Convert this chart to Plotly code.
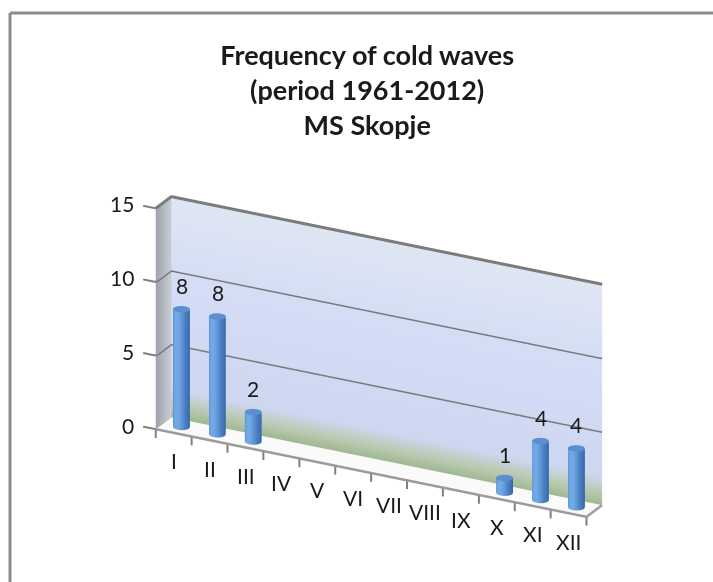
import numpy as np
import plotly.graph_objects as go

# Monthly counts of cold waves, MS Skopje, 1961-2012
months = ["I", "II", "III", "IV", "V", "VI", "VII", "VIII", "IX", "X", "XI", "XII"]
counts = [8, 8, 2, 0, 0, 0, 0, 0, 0, 1, 4, 4]
value_ticks = [0, 5, 10, 15]

TITLE = "<b>Frequency of cold waves</b><br><b>(period 1961-2012)</b><br><b>MS Skopje</b>"
FONT = "Lato"

n_cat = len(months)
z_top = 15
depth = 1.0
GRID = "#7A7A7A"

fig = go.Figure()

flat = dict(ambient=1.0, diffuse=0.0, specular=0.0, fresnel=0.0, roughness=1.0)

# back wall with vertical gradient (green tint near the floor)
wx = np.linspace(0, n_cat, 2)
wz = np.linspace(0, z_top, 60)
WX, WZ = np.meshgrid(wx, wz)
fig.add_trace(go.Surface(
    x=WX, y=np.full_like(WX, depth), z=WZ, surfacecolor=WZ,
    colorscale=[[0, "#A2B994"], [0.06, "#BACBB3"], [0.13, "#CED7F0"],
                [0.55, "#D3DBF6"], [1, "#DEE6F3"]],
    cmin=0, cmax=z_top, showscale=False, lighting=flat, hoverinfo="skip"))

# side wall on the left
sy = np.linspace(0, depth, 2)
sz = np.linspace(0, z_top, 2)
SY, SZ = np.meshgrid(sy, sz)
fig.add_trace(go.Surface(
    x=np.zeros_like(SY), y=SY, z=SZ, surfacecolor=SY,
    colorscale=[[0, "#9EA3AB"], [1, "#C9CED6"]], cmin=0, cmax=depth,
    showscale=False, lighting=flat, hoverinfo="skip"))

# floor
fx = np.linspace(0, n_cat, 2)
fy = np.linspace(0, depth, 2)
FX, FY = np.meshgrid(fx, fy)
fig.add_trace(go.Surface(
    x=FX, y=FY, z=np.zeros_like(FX), surfacecolor=np.zeros_like(FX),
    colorscale=[[0, "#FAFAFA"], [1, "#FAFAFA"]], showscale=False,
    lighting=flat, hoverinfo="skip"))


def line3d(xs, ys, zs, color=GRID, width=6):
    fig.add_trace(go.Scatter3d(x=xs, y=ys, z=zs, mode="lines",
                               line=dict(color=color, width=width),
                               hoverinfo="skip", showlegend=False))


# gridlines on back and side walls
for v in value_ticks[1:]:
    line3d([0, 0, n_cat], [0, depth, depth], [v, v, v])

# floor edges and value-axis ticks
line3d([0, n_cat, n_cat], [0, 0, depth], [0, 0, 0], color="#9A9A9A", width=5)
line3d([0, 0], [0, depth], [0, 0], color="#9A9A9A", width=5)
for v in value_ticks:
    line3d([-0.35, 0], [0, 0], [v, v], color="#7F7F7F", width=4)
for k in range(n_cat + 1):
    line3d([k, k], [0, 0], [0, -0.6], color="#7F7F7F", width=4)

# cylinders, shaded by facing angle
r = 0.21
ry = 0.24
cy = depth / 2
t = np.linspace(0, 2 * np.pi, 64)
t_light = np.radians(-100)
for i, v in enumerate(counts):
    if v <= 0:
        continue
    cx = i + 0.5
    T, H = np.meshgrid(t, [0, v])
    fig.add_trace(go.Surface(
        x=cx + r * np.cos(T), y=cy + ry * np.sin(T), z=H,
        surfacecolor=np.cos(T - t_light), cmin=-1, cmax=1,
        colorscale=[[0, "#2C5A96"], [0.45, "#3A6DAE"], [0.75, "#4A80C4"],
                    [0.92, "#629AD9"], [1, "#73A8E6"]],
        showscale=False, lighting=flat, hoverinfo="skip"))
    T2, R2 = np.meshgrid(t, [0, 1])
    fig.add_trace(go.Surface(
        x=cx + r * R2 * np.cos(T2), y=cy + ry * R2 * np.sin(T2), z=np.full_like(T2, v),
        surfacecolor=np.zeros_like(T2), colorscale=[[0, "#5B8FD0"], [1, "#5B8FD0"]],
        showscale=False, lighting=flat, hoverinfo="skip"))

annots = []
LABEL = dict(family=FONT, size=21, color="#1a1a1a")
# data labels
for i, v in enumerate(counts):
    if v > 0:
        annots.append(dict(x=i + 0.5, y=cy, z=v + 1.6, text=str(v), showarrow=False,
                           font=LABEL))
# value-axis labels
for v in value_ticks:
    annots.append(dict(x=-0.55, y=0, z=v, text=str(v), showarrow=False,
                       xanchor="right", font=LABEL))
# month labels
for i, m in enumerate(months):
    annots.append(dict(x=i + 0.5, y=0, z=-1.9, text=m, showarrow=False, font=LABEL))

phi = np.radians(27.5)
theta = np.radians(23)
dist = 2.2
lift = 0.033
eye = dict(x=dist * np.sin(phi) * np.cos(theta),
           y=-dist * np.cos(phi) * np.cos(theta),
           z=dist * np.sin(theta) + lift)

hidden = dict(visible=False, showbackground=False, showgrid=False, zeroline=False,
              showspikes=False)
fig.update_layout(
    width=713, height=582,
    margin=dict(l=0, r=0, t=0, b=0),
    paper_bgcolor="white",
    showlegend=False,
    title=dict(text=TITLE, x=0.515, xanchor="center", y=1 - 65 / 582, yanchor="top",
               font=dict(family=FONT, size=27, color="#1a1a1a")),
    scene=dict(
        domain=dict(x=[0.013, 1], y=[0, 0.786]),
        xaxis=dict(range=[-1.5, 12.5], **hidden),
        yaxis=dict(range=[0, 1], **hidden),
        zaxis=dict(range=[-2, 16], **hidden),
        aspectmode="manual",
        aspectratio=dict(x=2.48, y=0.148, z=1.26),
        camera=dict(eye=eye, up=dict(x=0, y=0, z=1), center=dict(x=0, y=0, z=lift),
                    projection=dict(type="orthographic")),
        bgcolor="rgba(0,0,0,0)",
        annotations=annots,
    ),
    shapes=[
        dict(type="line", xref="paper", yref="paper", x0=10 / 713, x1=10 / 713,
             y0=0, y1=1 - 13 / 582, line=dict(color="#8C8C8C", width=3)),
        dict(type="line", xref="paper", yref="paper", x0=10 / 713, x1=1,
             y0=1 - 13 / 582, y1=1 - 13 / 582, line=dict(color="#8C8C8C", width=3)),
    ],
)

fig.write_html("out.html")
